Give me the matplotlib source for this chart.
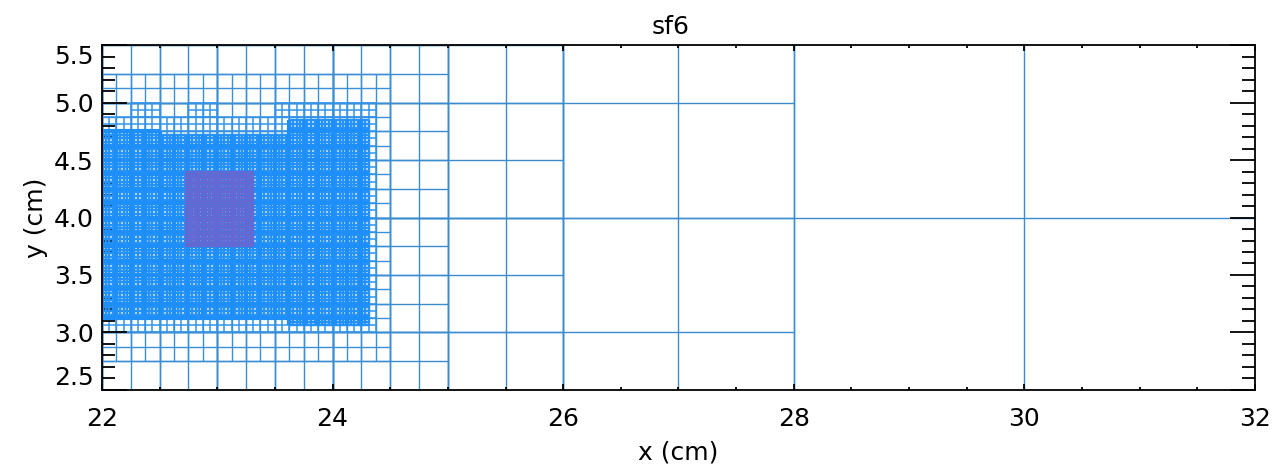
import numpy as np
import matplotlib
matplotlib.use("Agg")
import matplotlib.pyplot as plt
from matplotlib.collections import LineCollection
from matplotlib.ticker import MultipleLocator, FormatStrFormatter

# AMR mesh of the sf6 run: for each refinement level the cell size and the
# patches (x0, x1, y0, y1) in cm that are covered at that size
cell_size = [2.0, 1.0, 0.5, 0.25, 0.125, 0.0625, 0.03125, 0.015625]

patches_l0 = [(22, 32, 2, 6)]
patches_l1 = [(22, 28, 2, 6)]
patches_l2 = [(22, 26, 2, 6)]
patches_l3 = [(22, 25, 2.5, 5.5)]
patches_l4 = [(22, 24.5, 2.75, 5.25)]
patches_l5 = [(22, 24.375, 3.0, 4.875),
              (22.25, 22.5, 4.875, 5.0),
              (22.75, 23.0, 4.875, 5.0),
              (23.5, 24.375, 4.875, 5.0)]
patches_l6 = [(22, 22.5, 3.125, 4.75),
              (22.5, 23.625, 3.125, 4.71875),
              (23.625, 24.3125, 3.0625, 4.84375)]
patches_l7 = [(22.71875, 23.3125, 3.75, 4.40625)]

all_patches = [patches_l0, patches_l1, patches_l2, patches_l3,
               patches_l4, patches_l5, patches_l6, patches_l7]

# line colour / width per level
level_color = ['#3a8cce', '#3a8cce', '#3a8cce', '#3a8cce',
               '#3a8fd6', '#3394ea', '#2592fa', '#6468d0']
level_width = [1.0, 1.0, 1.0, 1.0, 1.0, 1.1, 1.75, 1.0]

block = 0.125  # block edges inside the finest patches are drawn heavier


def patch_lines(x0, x1, y0, y1, d):
    nx = int(round((x1 - x0) / d))
    ny = int(round((y1 - y0) / d))
    segs = []
    for x in np.linspace(x0, x1, nx + 1):
        segs.append([(x, y0), (x, y1)])
    for y in np.linspace(y0, y1, ny + 1):
        segs.append([(x0, y), (x1, y)])
    return segs


def block_lines(x0, x1, y0, y1, b):
    segs = []
    for x in np.arange(np.ceil(x0 / b) * b, x1 + 1e-9, b):
        segs.append([(x, y0), (x, y1)])
    for y in np.arange(np.ceil(y0 / b) * b, y1 + 1e-9, b):
        segs.append([(x0, y), (x1, y)])
    return segs


fig = plt.figure(figsize=(12.76, 4.68), dpi=100)
ax = fig.add_axes([0.0799, 0.1667, 0.9036, 0.7371])

for lev, patches in enumerate(all_patches):
    segs = []
    for (x0, x1, y0, y1) in patches:
        segs += patch_lines(x0, x1, y0, y1, cell_size[lev])
    ax.add_collection(LineCollection(segs, colors=level_color[lev],
                                     linewidths=level_width[lev], zorder=1 + lev * 0.1))
    if lev == 6:
        bsegs = []
        for (x0, x1, y0, y1) in patches:
            bsegs += block_lines(x0, x1, y0, y1, block)
        ax.add_collection(LineCollection(bsegs, colors='#1e8ef8',
                                         linewidths=3.0, zorder=1.65))

ax.set_xlim(22, 32)
ax.set_ylim(2.5, 5.5)

ax.xaxis.set_major_locator(MultipleLocator(2))
ax.xaxis.set_minor_locator(MultipleLocator(0.5))
ax.yaxis.set_major_locator(MultipleLocator(0.5))
ax.yaxis.set_minor_locator(MultipleLocator(0.1))
ax.xaxis.set_major_formatter(FormatStrFormatter('%d'))
ax.yaxis.set_major_formatter(FormatStrFormatter('%.1f'))

ax.tick_params(which='both', direction='in', top=True, right=True,
               color='black', width=1.3, labelsize=18)
ax.tick_params(axis='x', which='major', length=4.5, pad=12)
ax.tick_params(axis='x', which='minor', length=2.2)
ax.tick_params(axis='y', which='major', length=18, pad=6)
ax.tick_params(axis='y', which='minor', length=9.5)

for s in ax.spines.values():
    s.set_linewidth(1.3)
    s.set_color('black')

ax.set_title('sf6', fontsize=18, pad=8, x=0.493)
ax.set_xlabel('x (cm)', fontsize=18, labelpad=7)
ax.set_ylabel('y (cm)', fontsize=18, labelpad=4)

# end labels of the y axis sit inside the frame
fig.canvas.draw()
for lab in ax.get_yticklabels():
    if lab.get_text() == '5.5':
        lab.set_va('top')
    elif lab.get_text() == '2.5':
        lab.set_va('bottom')

fig.savefig('out.png', dpi=100, facecolor='white')
